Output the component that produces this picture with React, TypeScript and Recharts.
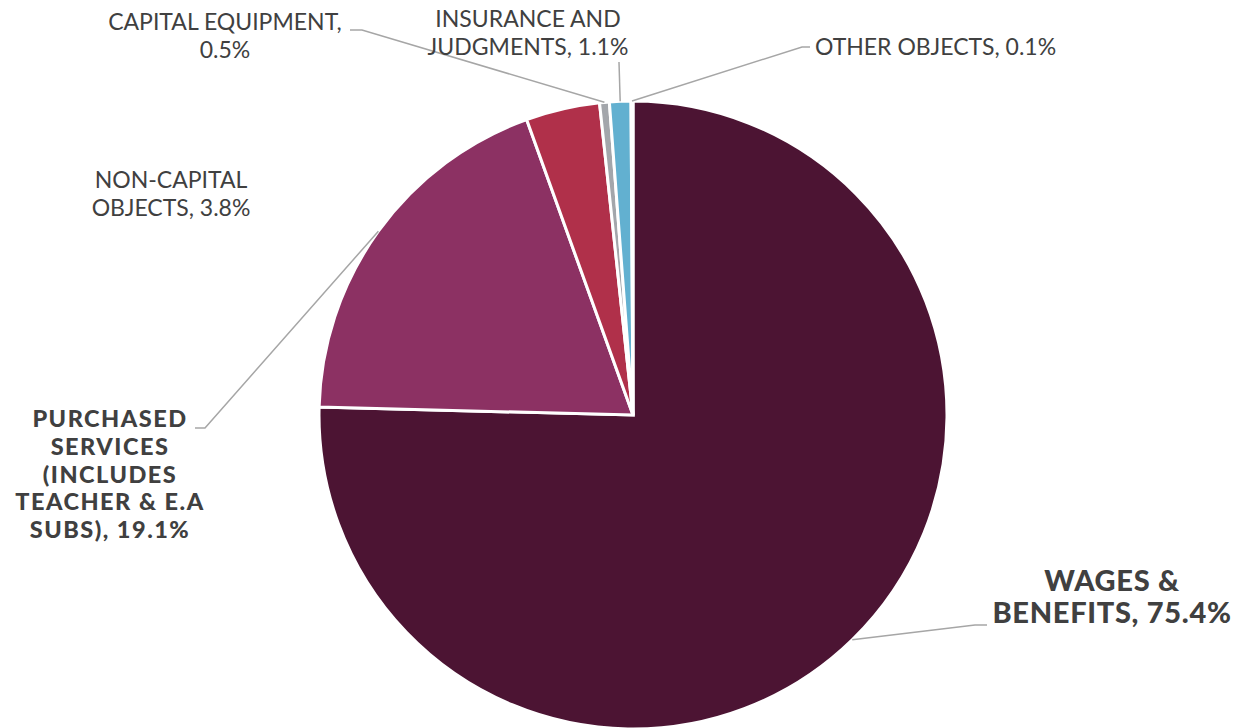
import React from 'react';
import { PieChart, Pie, Cell } from 'recharts';

const categories = [
  'WAGES & BENEFITS',
  'PURCHASED SERVICES (INCLUDES TEACHER & E.A SUBS)',
  'NON-CAPITAL OBJECTS',
  'CAPITAL EQUIPMENT',
  'INSURANCE AND JUDGMENTS',
  'OTHER OBJECTS',
];
const shares = [75.4, 19.1, 3.8, 0.5, 1.1, 0.1];
const COLORS = ['#4C1433', '#8C3163', '#B0304A', '#A3A6AB', '#62B0D0', '#2E6F8E'];

// label text lines as shown on the chart
const labelLines = [
  ['WAGES &', 'BENEFITS, 75.4%'],
  ['PURCHASED', 'SERVICES', '(INCLUDES', 'TEACHER & E.A', 'SUBS), 19.1%'],
  ['NON-CAPITAL', 'OBJECTS, 3.8%'],
  ['CAPITAL EQUIPMENT,', '0.5%'],
  ['INSURANCE AND', 'JUDGMENTS, 1.1%'],
  ['OTHER OBJECTS, 0.1%'],
];

const data = categories.map((name, i) => ({ name, value: shares[i] }));

// label placement (layout only)
const labelLayout = [
  { x: 1112, y: 591, anchor: 'middle', size: 29, lh: 32, bold: true, ls: 0.7, elbow: [975, 625], end: [987, 625] },
  { x: 110, y: 427, anchor: 'middle', size: 23.5, lh: 27.8, bold: true, ls: 1.5, elbow: [205, 428], end: [195, 428] },
  { x: 171, y: 188, anchor: 'middle', size: 23, lh: 28, bold: false, ls: 0, elbow: null, end: null },
  { x: 225, y: 30, anchor: 'middle', size: 23, lh: 27.5, bold: false, ls: 0, elbow: [362, 30], end: [350, 30] },
  { x: 528, y: 27, anchor: 'middle', size: 23, lh: 28, bold: false, ls: 0, elbow: [619, 62], end: [619, 62] },
  { x: 815, y: 55, anchor: 'start', size: 23, lh: 28, bold: false, ls: 0, elbow: [802, 47], end: [810, 47] },
];

const RAD = Math.PI / 180;

const renderLabel = (props: any) => {
  const { cx, cy, midAngle, outerRadius, index } = props;
  const lay = labelLayout[index];
  const lines = labelLines[index];
  const sx = cx + outerRadius * Math.cos(-midAngle * RAD);
  const sy = cy + outerRadius * Math.sin(-midAngle * RAD);
  return (
    <g key={`lbl-${index}`}>
      {lay.elbow && (
        <polyline
          points={`${sx},${sy} ${lay.elbow[0]},${lay.elbow[1]} ${lay.end![0]},${lay.end![1]}`}
          fill="none"
          stroke="#A6A6A6"
          strokeWidth={1.5}
        />
      )}
      <text
        x={lay.x}
        y={lay.y}
        textAnchor={lay.anchor as any}
        fill="#404040"
        fontSize={lay.size}
        fontWeight={lay.bold ? 900 : 400}
        letterSpacing={lay.ls}
        fontFamily="Lato, 'Open Sans', sans-serif"
      >
        {lines.map((l, j) => (
          <tspan key={j} x={lay.x} dy={j === 0 ? 0 : lay.lh}>
            {l}
          </tspan>
        ))}
      </text>
    </g>
  );
};

export default function App() {
  return (
    <div style={{ position: 'absolute', left: 0, top: 0, background: '#fff' }}>
      <PieChart width={1239} height={728} margin={{ top: 0, right: 0, bottom: 0, left: 0 }}>
        <Pie
          data={data}
          dataKey="value"
          nameKey="name"
          cx={633}
          cy={415}
          outerRadius={314}
          startAngle={90}
          endAngle={-270}
          stroke="#FFFFFF"
          strokeWidth={3}
          label={renderLabel}
          labelLine={false}
          isAnimationActive={false}
        >
          {data.map((entry, i) => (
            <Cell key={`cell-${i}`} fill={COLORS[i]} />
          ))}
        </Pie>
      </PieChart>
    </div>
  );
}
